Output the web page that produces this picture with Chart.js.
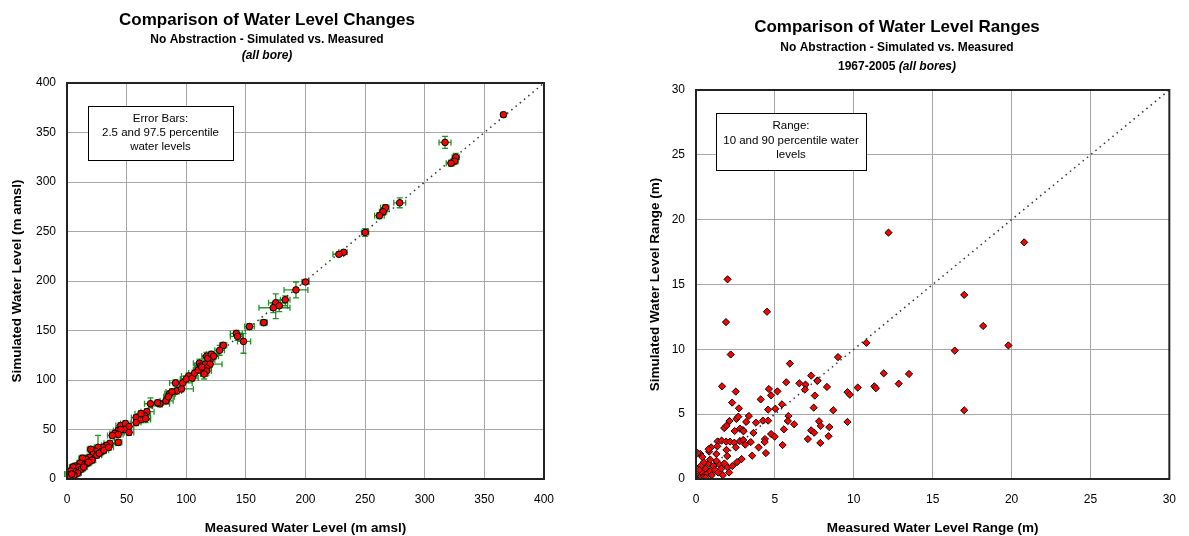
<!DOCTYPE html>
<html>
<head>
<meta charset="utf-8">
<script src="https://cdn.jsdelivr.net/npm/chart.js@4.4.1/dist/chart.umd.min.js"></script>
<style>
  html, body { margin: 0; padding: 0; background: #fff; }
  #wrap { position: relative; width: 1189px; height: 536px; }
  #levelChart { position: absolute; left: 0; top: 0; }
  #rangeChart { position: absolute; left: 594px; top: 0; }
</style>
</head>
<body>
<div id="wrap">
  <canvas id="levelChart" width="594" height="536"></canvas>
  <canvas id="rangeChart" width="595" height="536"></canvas>
</div>
<script>
// ===================== Data: water levels (m amsl) ===================

const levelMeasured  = [366, 317, 326, 325, 322, 279, 267, 265, 262, 250, 232, 228, 200, 192, 183, 175, 173, 178, 165, 153,
                        142, 143, 148, 131, 128, 117, 120, 111, 116, 120, 112, 117, 117, 115, 102, 97, 91, 92, 96, 83,
                        78, 76, 70, 67, 65, 60, 58, 62, 58, 66, 62, 45, 49, 52, 48, 43, 40, 52, 45, 43,
                        38, 43, 36, 33, 30, 26, 24, 20, 29, 22, 19, 16, 13, 11, 7, 5, 3, 0, 2, 100,
                        105, 107, 110, 113, 118, 121, 123, 86, 88, 85, 8, 10, 12, 15, 17, 14, 9, 6, 4, 25,
                        27, 31, 35, 21, 18];
const levelSimulated = [368, 340, 325, 321, 319, 279, 274, 270, 266, 249, 229, 227, 199, 191, 181, 178, 173, 175, 158, 154,
                        147, 144, 139, 135, 130, 124, 120, 117, 116, 116, 114, 112, 109, 106, 104, 97, 97, 89, 91, 79,
                        76, 77, 76, 68, 64, 62, 62, 60, 57, 61, 66, 54, 56, 53, 50, 49, 46, 47, 50, 45,
                        44, 37, 36, 34, 32, 32, 28, 30, 28, 25, 22, 20, 21, 16, 13, 12, 8, 5, 2, 101,
                        102, 107, 110, 113, 122, 126, 124, 86, 88, 83, 8, 12, 10, 15, 16, 12, 6, 4, 5, 24,
                        26, 29, 32, 19, 17];
// error bar extents: 2.5 and 97.5 percentile water levels
const levelXErrLow   = [2, 5, 3, 3, 4, 5, 4, 3, 4, 3, 4, 5, 3, 10, 4, 6, 12, 6, 3, 4,
                        5, 6, 5, 3, 4, 4, 4, 5, 3, 4, 5, 4, 4, 3, 6, 5, 5, 4, 4, 5,
                        5, 5, 5, 5, 4, 4, 4, 5, 4, 4, 5, 4, 4, 4, 4, 4, 4, 4, 4, 4,
                        4, 3, 5, 4, 4, 3, 3, 3, 3, 3, 3, 3, 3, 3, 3, 3, 3, 2, 2, 5,
                        4, 5, 4, 5, 4, 4, 5, 4, 5, 4, 3, 3, 3, 3, 3, 3, 3, 3, 3, 4,
                        3, 4, 4, 3, 3];
const levelXErrHigh  = [2, 5, 3, 3, 3, 5, 3, 3, 4, 3, 3, 4, 3, 10, 4, 8, 14, 7, 3, 4,
                        5, 4, 6, 3, 4, 4, 4, 5, 3, 10, 5, 4, 4, 3, 6, 8, 5, 4, 10, 6,
                        8, 5, 5, 6, 5, 5, 5, 8, 4, 4, 5, 4, 4, 4, 4, 4, 4, 4, 4, 4,
                        4, 3, 5, 4, 4, 3, 3, 3, 3, 3, 3, 3, 3, 3, 3, 3, 3, 2, 2, 6,
                        5, 5, 6, 5, 4, 5, 4, 5, 4, 5, 3, 3, 3, 3, 3, 3, 3, 3, 3, 4,
                        3, 4, 4, 3, 3];
const levelYErrLow   = [2, 6, 4, 3, 3, 5, 4, 3, 3, 4, 2, 2, 2, 8, 3, 16, 5, 6, 3, 3,
                        3, 4, 12, 3, 5, 4, 3, 4, 3, 3, 3, 3, 4, 5, 3, 3, 3, 3, 3, 3,
                        3, 3, 4, 3, 3, 3, 3, 3, 3, 4, 3, 3, 3, 3, 3, 3, 3, 3, 3, 3,
                        3, 3, 3, 3, 3, 3, 3, 3, 3, 3, 3, 3, 3, 3, 3, 3, 3, 2, 2, 3,
                        3, 3, 3, 3, 3, 3, 3, 3, 3, 3, 3, 3, 3, 3, 3, 3, 3, 3, 3, 3,
                        3, 3, 3, 3, 3];
const levelYErrHigh  = [2, 6, 4, 3, 3, 5, 3, 3, 3, 4, 2, 2, 2, 8, 4, 9, 5, 6, 3, 3,
                        3, 4, 8, 3, 5, 4, 3, 4, 3, 3, 3, 3, 4, 5, 3, 3, 3, 3, 3, 3,
                        3, 3, 6, 3, 3, 3, 3, 3, 3, 4, 3, 3, 3, 3, 3, 3, 3, 3, 3, 3,
                        3, 3, 3, 3, 3, 12, 3, 3, 3, 3, 3, 3, 3, 3, 3, 3, 3, 2, 2, 3,
                        3, 3, 3, 3, 3, 3, 3, 3, 3, 3, 3, 3, 3, 3, 3, 3, 3, 3, 3, 3,
                        3, 3, 3, 3, 3];
const levelLine = [0, 400];
const levelTicks = [0, 50, 100, 150, 200, 250, 300, 350, 400];

// ===================== Data: water level ranges (m) ===================

const rangeMeasured  = [12.2, 20.8, 17.0, 18.2, 19.8, 16.4, 10.8, 9.0, 17.0, 11.9, 13.5, 12.85, 11.3, 11.4, 10.25, 9.6, 9.75, 8.3, 7.7, 8.7,
                        9.6, 7.8, 7.9, 8.45, 8.4, 2.0, 1.9, 2.2, 4.5, 5.95, 1.65, 2.52, 4.62, 4.76, 5.16, 5.72, 6.55, 6.94, 6.9, 7.3,
                        7.69, 7.53, 2.29, 2.72, 4.10, 4.57, 5.03, 5.45, 7.46, 3.35, 2.56, 2.68, 2.12, 4.24, 4.57, 3.80, 3.18, 5.86, 5.82, 6.22,
                        1.79, 1.93, 2.45, 2.79, 2.97, 3.01, 3.64, 5.57, 7.30, 7.49, 4.76, 4.99, 4.37, 4.35, 7.09, 7.88, 1.37, 1.62, 1.91, 2.16,
                        2.43, 2.79, 2.99, 3.47, 3.12, 2.52, 1.93, 1.35, 0.96, 0.83, 1.29, 3.97, 5.49, 4.43, 3.56, 2.89, 1.98, 0.27, 0.1, 0.2,
                        0.3, 0.4, 0.5, 0.6, 0.3, 0.7, 0.8, 0.9, 1.0, 1.1, 1.2, 0.5, 1.3, 1.4, 0.2, 0.6, 0.9, 1.5, 1.6, 1.8,
                        2.0, 2.3, 2.6, 2.1, 1.7, 0.1, 0.4, 0.8];
const rangeSimulated = [19.0, 18.25, 14.2, 11.8, 10.3, 9.9, 10.5, 9.4, 5.3, 8.15, 8.1, 7.35, 7.15, 7.0, 7.05, 6.7, 6.5, 7.1, 7.6, 5.3,
                        4.4, 4.45, 4.1, 4.0, 3.3, 15.4, 12.1, 9.6, 12.9, 8.9, 7.15, 6.74, 6.94, 6.45, 6.76, 7.46, 7.38, 7.28, 6.89, 7.97,
                        7.56, 6.43, 5.89, 5.45, 6.14, 5.35, 5.42, 5.76, 5.50, 4.86, 4.63, 4.81, 4.47, 4.50, 4.50, 4.34, 4.40, 4.86, 4.47, 4.22,
                        3.93, 4.11, 3.70, 3.88, 3.78, 3.68, 3.55, 3.83, 3.75, 3.57, 3.47, 3.26, 3.08, 2.85, 3.08, 2.78, 2.90, 2.96, 2.88, 2.88,
                        2.80, 2.93, 3.01, 2.85, 2.65, 2.44, 2.24, 2.52, 2.44, 2.11, 1.93, 2.44, 2.62, 2.00, 1.80, 1.54, 1.77, 1.93, 0.1, 0.3,
                        0.2, 0.5, 0.2, 0.8, 1.0, 0.4, 1.2, 0.6, 0.3, 1.0, 0.7, 1.3, 1.4, 0.5, 0.7, 0.1, 1.5, 1.1, 0.8, 1.2,
                        0.9, 1.0, 1.3, 0.5, 0.3, 2.0, 1.7, 2.3];
const rangeLine = [0, 30];
const rangeTicks = [0, 5, 10, 15, 20, 25, 30];

// ===================== Helpers ===================

const FONT = "'Liberation Sans', Arial, sans-serif";
const GRID = '#a6a6a6';

function toPoints(xs, ys) {
  return xs.map((x, i) => ({ x: x, y: ys[i] }));
}

// plot frame + titles + note box, drawn on the canvas
const framePlugin = {
  id: 'frame',
  afterDraw(chart, args, opts) {
    const { ctx, chartArea: a } = chart;
    ctx.save();
    ctx.strokeStyle = '#222';
    ctx.lineWidth = 2;
    ctx.strokeRect(a.left, a.top, a.right - a.left, a.bottom - a.top);

    // title lines
    ctx.fillStyle = '#000';
    ctx.textAlign = 'center';
    ctx.textBaseline = 'middle';
    opts.titles.forEach(t => {
      ctx.font = t.font;
      if (t.parts) {
        // mixed style line: measure and draw pieces
        let total = 0;
        t.parts.forEach(p => { ctx.font = p.font; total += ctx.measureText(p.text).width; });
        let x = opts.titleX - total / 2;
        ctx.textAlign = 'left';
        t.parts.forEach(p => {
          ctx.font = p.font;
          ctx.fillText(p.text, x, t.y);
          x += ctx.measureText(p.text).width;
        });
        ctx.textAlign = 'center';
      } else {
        ctx.fillText(t.text, opts.titleX, t.y);
      }
    });

    // note box
    const b = opts.box;
    ctx.fillStyle = '#fff';
    ctx.fillRect(b.x, b.y, b.w, b.h);
    ctx.strokeStyle = '#000';
    ctx.lineWidth = 1;
    ctx.strokeRect(b.x + 0.5, b.y + 0.5, b.w, b.h);
    ctx.fillStyle = '#000';
    ctx.font = '11.5px ' + FONT;
    b.lines.forEach((line, i) => {
      ctx.fillText(line, b.x + b.w / 2, b.y + b.top + i * b.lineGap);
    });
    ctx.restore();
  }
};

// error bars for the level chart
const errorBarPlugin = {
  id: 'errorBars',
  beforeDatasetsDraw(chart) {
    const { ctx, scales: { x, y } } = chart;
    const cap = 3;
    ctx.save();
    ctx.strokeStyle = 'rgba(0, 128, 0, 0.85)';
    ctx.lineWidth = 1.3;
    levelMeasured.forEach((m, i) => {
      const s = levelSimulated[i];
      const px = x.getPixelForValue(m);
      const py = y.getPixelForValue(s);
      const x0 = x.getPixelForValue(m - levelXErrLow[i]);
      const x1 = x.getPixelForValue(m + levelXErrHigh[i]);
      const y0 = y.getPixelForValue(s - levelYErrLow[i]);
      const y1 = y.getPixelForValue(s + levelYErrHigh[i]);
      ctx.beginPath();
      ctx.moveTo(x0, py); ctx.lineTo(x1, py);
      ctx.moveTo(x0, py - cap); ctx.lineTo(x0, py + cap);
      ctx.moveTo(x1, py - cap); ctx.lineTo(x1, py + cap);
      ctx.moveTo(px, y0); ctx.lineTo(px, y1);
      ctx.moveTo(px - cap, y0); ctx.lineTo(px + cap, y0);
      ctx.moveTo(px - cap, y1); ctx.lineTo(px + cap, y1);
      ctx.stroke();
    });
    ctx.restore();
  }
};

function axisConfig(ticks, title, isX, size, titlePad, tickPad) {
  return {
    type: 'linear',
    min: ticks[0],
    max: ticks[ticks.length - 1],
    afterBuildTicks: scale => { scale.ticks = ticks.map(v => ({ value: v })); },
    afterFit: scale => { if (isX) scale.height = size; else scale.width = size; },
    grid: { color: GRID, lineWidth: 1, drawTicks: false },
    border: { display: false },
    ticks: { color: '#000', font: { family: FONT, size: 12 }, padding: tickPad },
    title: {
      display: true,
      text: title,
      color: '#000',
      font: { family: FONT, size: 13.5, weight: 'bold' },
      padding: { top: titlePad, bottom: 0 }
    }
  };
}

// ===================== Charts ===================

new Chart(document.getElementById('levelChart'), {
  type: 'scatter',
  data: {
    datasets: [
      {
        data: toPoints(levelMeasured, levelSimulated),
        pointStyle: 'circle',
        pointRadius: 3.3,
        backgroundColor: '#ff0000',
        borderColor: '#000',
        borderWidth: 1
      },
      {
        type: 'line',
        data: toPoints(levelLine, levelLine),
        borderColor: '#333',
        borderWidth: 1.5,
        borderDash: [1.5, 4],
        pointRadius: 0
      }
    ]
  },
  options: {
    responsive: false,
    animation: false,
    layout: { padding: { top: 83, right: 50, left: 0, bottom: 0 } },
    plugins: {
      legend: { display: false },
      tooltip: { enabled: false },
      frame: {
        titleX: 267,
        titles: [
          { text: 'Comparison of Water Level Changes', font: 'bold 17px ' + FONT, y: 20 },
          { text: 'No Abstraction - Simulated vs. Measured', font: 'bold 12px ' + FONT, y: 40 },
          { text: '(all bore)', font: 'italic bold 12px ' + FONT, y: 56 }
        ],
        box: { x: 88, y: 106, w: 145, h: 54, top: 13, lineGap: 14,
               lines: ['Error Bars:', '2.5 and 97.5 percentile', 'water levels'] }
      }
    },
    scales: {
      x: axisConfig(levelTicks, 'Measured Water Level (m amsl)', true, 57, 5, 13),
      y: axisConfig(levelTicks, 'Simulated Water Level (m amsl)', false, 67, 9, 11)
    }
  },
  plugins: [errorBarPlugin, framePlugin]
});

new Chart(document.getElementById('rangeChart'), {
  type: 'scatter',
  data: {
    datasets: [
      {
        data: toPoints(rangeMeasured, rangeSimulated),
        pointStyle: 'rectRot',
        pointRadius: 3.6,
        backgroundColor: '#ff0000',
        borderColor: '#000',
        borderWidth: 1
      },
      {
        type: 'line',
        data: toPoints(rangeLine, rangeLine),
        borderColor: '#333',
        borderWidth: 1.5,
        borderDash: [1.5, 4],
        pointRadius: 0
      }
    ]
  },
  options: {
    responsive: false,
    animation: false,
    layout: { padding: { top: 90, right: 12, left: 0, bottom: 0 } },
    plugins: {
      legend: { display: false },
      tooltip: { enabled: false },
      frame: {
        titleX: 303,
        titles: [
          { text: 'Comparison of Water Level Ranges', font: 'bold 17px ' + FONT, y: 27 },
          { text: 'No Abstraction - Simulated vs. Measured', font: 'bold 12px ' + FONT, y: 48 },
          { y: 67, parts: [
              { text: '1967-2005 ', font: 'bold 12px ' + FONT },
              { text: '(all bores)', font: 'italic bold 12px ' + FONT }
          ] }
        ],
        box: { x: 122, y: 113, w: 150, h: 57, top: 13, lineGap: 14.5,
               lines: ['Range:', '10 and 90 percentile water', 'levels'] }
      }
    },
    scales: {
      x: axisConfig(rangeTicks, 'Measured Water Level Range (m)', true, 57, 5, 13),
      y: axisConfig(rangeTicks, 'Simulated Water Level Range (m)', false, 102, 53, 11)
    }
  },
  plugins: [framePlugin]
});
</script>
</body>
</html>
